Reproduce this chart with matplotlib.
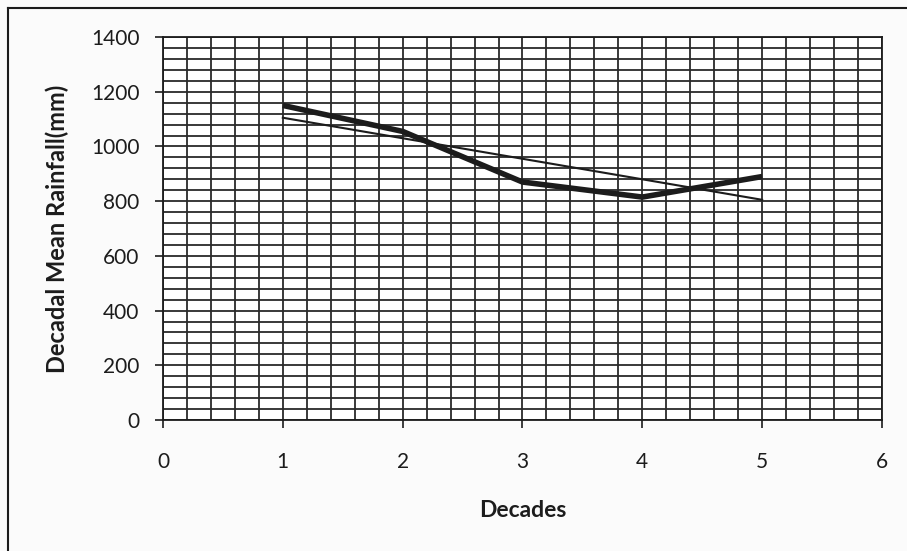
import matplotlib.pyplot as plt
from matplotlib.lines import Line2D
import numpy as np

# values
decades = [1, 2, 3, 4, 5]
rainfall = [1150, 1055, 870, 815, 890]
trend_x = [1, 5]
trend_y = [1105, 805]

x_ticks = [0, 1, 2, 3, 4, 5, 6]
y_ticks = [0, 200, 400, 600, 800, 1000, 1200, 1400]

plt.rcParams['font.family'] = ['Lato', 'DejaVu Sans']
ink = '#1c1c1c'

fig = plt.figure(figsize=(9.07, 5.51), dpi=100)
fig.patch.set_facecolor('#fbfbfb')
ax = fig.add_axes([0.1797, 0.2377, 0.7927, 0.6951])
ax.set_facecolor('white')

# dense graph-paper grid
ax.set_xlim(0, 6)
ax.set_ylim(0, 1400)
ax.set_xticks(x_ticks)
ax.set_yticks(y_ticks)
ax.set_xticks(np.arange(0, 6.01, 0.2), minor=True)
ax.set_yticks(np.arange(0, 1401, 40), minor=True)
ax.grid(True, which='both', color='#2a2a2a', linewidth=1.3)
ax.set_axisbelow(True)
ax.tick_params(which='minor', length=0)
ax.tick_params(axis='y', which='major', length=6, width=1.2, color=ink,
               pad=11, labelsize=15, labelcolor=ink)
ax.tick_params(axis='x', which='major', length=6, width=1.2, color=ink,
               pad=17, labelsize=15, labelcolor=ink)
for s in ax.spines.values():
    s.set_color(ink)
    s.set_linewidth(1.3)

ax.plot(trend_x, trend_y, color=ink, linewidth=1.5, zorder=3)
ax.plot(decades, rainfall, color=ink, linewidth=4, solid_capstyle='butt', zorder=4)

ax.set_xlabel('Decades', fontsize=16.5, fontweight='bold', color=ink, labelpad=20)
ax.set_ylabel('Decadal Mean Rainfall(mm)', fontsize=17, fontweight='bold',
              color=ink, labelpad=16)

# frame of the scanned chart
fig.add_artist(Line2D([8 / 907, 8 / 907], [0, 1 - 8 / 551], color=ink, linewidth=1.5))
fig.add_artist(Line2D([8 / 907, 1], [1 - 8 / 551, 1 - 8 / 551], color=ink, linewidth=1.5))

fig.savefig('out.png', dpi=100, facecolor=fig.get_facecolor())
